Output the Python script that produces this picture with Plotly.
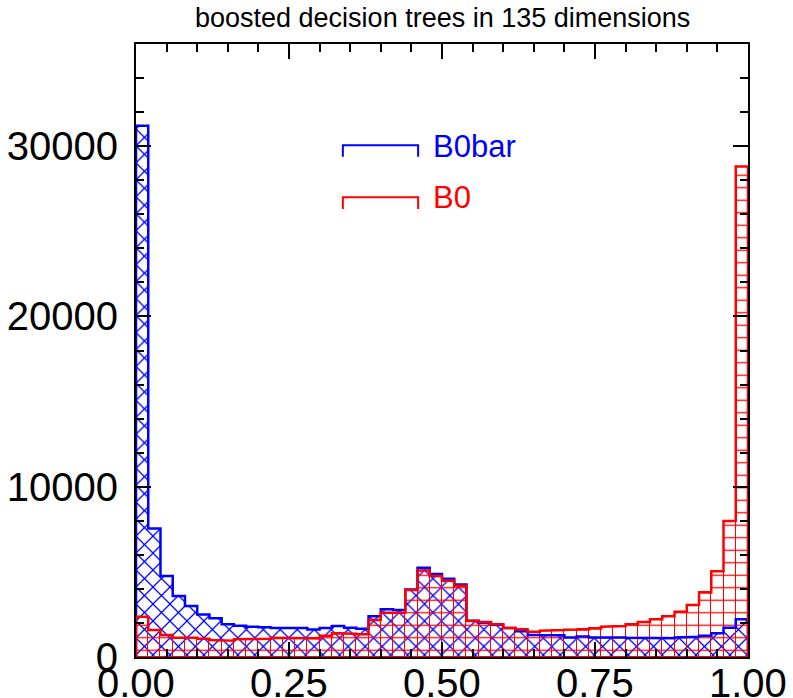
import numpy as np
import plotly.graph_objects as go

# Classifier output histogram: 50 bins over [0, 1]
bin_lo = 0.0
bin_hi = 1.0
n_bins = 50

b0bar_counts = [
    31200, 7550, 4750, 3580, 2990, 2500, 2270, 1920, 1840, 1780,
    1740, 1700, 1710, 1700, 1620, 1700, 1820, 1720, 1660, 2400,
    2800, 2760, 3970, 5240, 4880, 4600, 4260, 2130, 2010, 1890,
    1700, 1510, 1290, 1270, 1270, 1150, 1200, 1150, 1190, 1150,
    1130, 1100, 1100, 1100, 1150, 1190, 1250, 1390, 1720, 2210,
]
b0_counts = [
    2360, 1580, 1290, 1130, 1130, 1070, 1000, 960, 1040, 1040,
    1070, 1130, 1100, 1090, 1090, 1250, 1390, 1370, 1330, 2170,
    2600, 2600, 3930, 5080, 4750, 4480, 4180, 2110, 2050, 1930,
    1700, 1620, 1480, 1540, 1580, 1600, 1620, 1680, 1780, 1820,
    1930, 2050, 2210, 2400, 2660, 3050, 3790, 5040, 7990, 28800,
]

x_tick_vals = [0.0, 0.25, 0.5, 0.75, 1.0]
x_tick_text = ["0.00", "0.25", "0.50", "0.75", "1.00"]
y_tick_vals = [0, 10000, 20000, 30000]
y_tick_text = ["0", "10000", "20000", "30000"]

title_text = "boosted decision trees in 135 dimensions"
series_names = ["B0bar", "B0"]

BLUE = "rgb(0,0,255)"
RED = "rgb(255,0,0)"
FONT = "Liberation Sans, Arial, sans-serif"

edges = np.linspace(bin_lo, bin_hi, n_bins + 1)
centers = 0.5 * (edges[:-1] + edges[1:])
width = edges[1] - edges[0]


def step_outline(values):
    v = np.asarray(values, dtype=float)
    xs = np.concatenate([[edges[0]], np.repeat(edges, 2)[1:-1], [edges[-1]]])
    ys = np.concatenate([[0.0], np.repeat(v, 2), [0.0]])
    return xs, ys


fig = go.Figure()

# B0bar: cross-hatched fill
fig.add_trace(go.Bar(
    x=centers, y=b0bar_counts, width=width,
    marker=dict(
        color="rgba(0,0,0,0)",
        line=dict(width=0),
        pattern=dict(shape="x", fgcolor=BLUE, bgcolor="rgba(0,0,0,0)",
                     size=12, solidity=0.2, fillmode="replace"),
    ),
    showlegend=False, hoverinfo="skip",
))
bx, by = step_outline(b0bar_counts)
fig.add_trace(go.Scatter(x=bx, y=by, mode="lines",
                         line=dict(color=BLUE, width=2.5),
                         showlegend=False, hoverinfo="skip"))

# B0: grid fill (horizontal hatch + bin edges)
fig.add_trace(go.Bar(
    x=centers, y=b0_counts, width=width,
    marker=dict(
        color="rgba(0,0,0,0)",
        line=dict(width=1, color=RED),
        pattern=dict(shape="-", fgcolor=RED, bgcolor="rgba(0,0,0,0)",
                     size=12.5, solidity=0.1, fillmode="replace"),
    ),
    showlegend=False, hoverinfo="skip",
))
rx, ry = step_outline(b0_counts)
fig.add_trace(go.Scatter(x=rx, y=ry, mode="lines",
                         line=dict(color=RED, width=2.5),
                         showlegend=False, hoverinfo="skip"))

# In-plot legend: bracket symbols with coloured labels
shapes = []
for color, y_top, y_bot in [(BLUE, 0.835, 0.816), (RED, 0.750, 0.731)]:
    shapes.append(dict(
        type="path", xref="paper", yref="paper",
        path=f"M 0.338 {y_bot} L 0.338 {y_top} L 0.461 {y_top} L 0.461 {y_bot}",
        line=dict(color=color, width=2),
    ))

annotations = [
    dict(text=series_names[0], x=0.482, y=0.832, xref="paper", yref="paper",
         xanchor="left", yanchor="middle", showarrow=False,
         font=dict(family=FONT, size=31, color=BLUE)),
    dict(text=series_names[1], x=0.482, y=0.749, xref="paper", yref="paper",
         xanchor="left", yanchor="middle", showarrow=False,
         font=dict(family=FONT, size=31, color=RED)),
    dict(text=title_text, x=0.5, y=1.042, xref="paper", yref="paper",
         xanchor="center", yanchor="middle", showarrow=False,
         font=dict(family=FONT, size=27, color="black")),
]

# x tick labels sit tight under the axis
for val, txt in zip(x_tick_vals, x_tick_text):
    annotations.append(dict(
        text=txt, x=val, y=-0.042, xref="x", yref="paper",
        xanchor="center", yanchor="middle", showarrow=False,
        font=dict(family=FONT, size=40, color="black"),
    ))

fig.update_layout(
    width=793, height=698,
    margin=dict(l=136, r=45, t=44, b=41, autoexpand=False),
    paper_bgcolor="white", plot_bgcolor="white",
    barmode="overlay", bargap=0,
    shapes=shapes, annotations=annotations,
    font=dict(family=FONT, color="black"),
)

fig.update_xaxes(
    range=[bin_lo, bin_hi], tickvals=x_tick_vals, showticklabels=False,
    ticks="inside", ticklen=15, tickwidth=2, tickcolor="black",
    minor=dict(dtick=0.05, ticks="inside", ticklen=8, tickwidth=2, tickcolor="black"),
    showline=True, linewidth=2, linecolor="black", mirror="ticks",
    showgrid=False, zeroline=False,
)
fig.update_yaxes(
    range=[0, 36000], tickvals=y_tick_vals, ticktext=y_tick_text,
    ticks="inside", ticklen=15, tickwidth=2, tickcolor="black",
    minor=dict(dtick=2000, ticks="inside", ticklen=8, tickwidth=2, tickcolor="black"),
    showline=True, linewidth=2, linecolor="black", mirror="ticks",
    showgrid=False, zeroline=False, ticklabelstandoff=8,
    tickfont=dict(family=FONT, size=40, color="black"),
)

fig.write_html("out.html", config={"displayModeBar": False})
